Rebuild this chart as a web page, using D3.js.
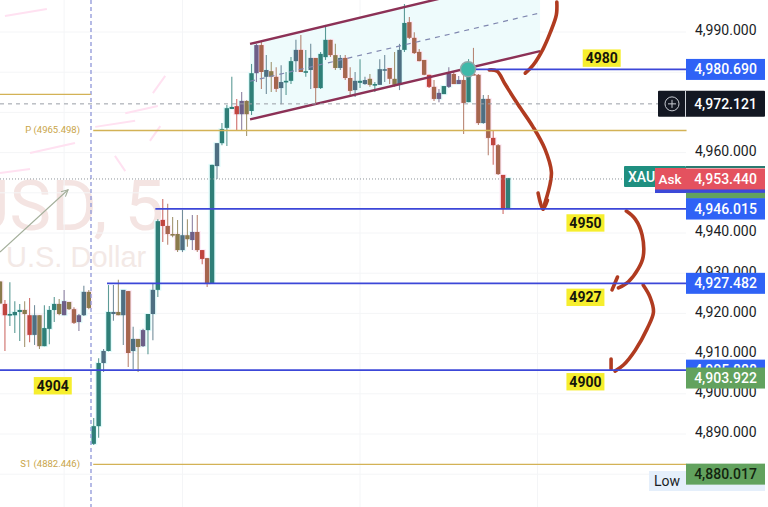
<!DOCTYPE html>
<html><head><meta charset="utf-8">
<style>html,body{margin:0;padding:0;background:#fff;overflow:hidden}svg{display:block}text{font-family:Roboto,sans-serif}</style>
<script src="https://cdn.jsdelivr.net/npm/d3@7/dist/d3.min.js"></script>
</head><body><svg id="c" width="768" height="507"></svg>
<script>
const opens=[4928.2,4922.6,4920.1,4919.8,4920.6,4921.1,4919.8,4914.9,4919.8,4912.1,4916.4,4921.1,4922.6,4919.8,4923.1,4921.3,4918.1,4919.8,4925.6,
4887.8,4892.2,4907.9,4910.9,4920.1,4920.6,4919.8,4925.8,4910.9,4913.9,4912.1,4916.1,4920.1,4926.1,
4943.5,4942,4940,4940,4936,4939.7,4938.5,4940.5,4936,4934,4927.8,4956.9,4962.6,4966.4,4971.1,4971.8,4969.8,4973.1,4970.6,4980,
4987,4979.1,4980.5,4979.1,4976.3,4977.8,4978.1,4983,4985.8,4980.3,4980.8,4983.8,4976.3,4984,4988.3,4984.5,4981.3,4983.8,4978.8,4975.8,4977.6,4977.3,4978.6,4977.1,4977.1,4980.8,4981.3,4978.6,4977.1,
4985.8,4992.7,4988.8,4985.3,4983.3,4979.6,4976.6,4973.6,4974.8,4976.6,4979.8,4977.3,4978.3,4972.8,4979.8,4979.6,4967.6,4973.6,4963.9,4962.1,4954.7,4946.2];
const closes=[4922.7,4919.8,4919.8,4920.6,4921.1,4920.1,4914.9,4919.8,4912.1,4916.6,4921.1,4922.6,4920.1,4923.3,4921.3,4917.9,4919.8,4925.6,4921.6,
4892.2,4907.9,4910.9,4920.6,4920.6,4919.8,4926.1,4910.4,4913.9,4911.9,4916.1,4920.1,4926.1,4943.2,
4942,4940,4939.7,4936,4939.7,4938.7,4940.5,4936,4933.8,4927.6,4957.2,4962.6,4966.1,4971.3,4971.6,4969.8,4973.1,4969.8,4980,4987,
4980.3,4980.8,4979.1,4976.1,4977.8,4978.1,4983,4985.8,4980.3,4980.5,4983.8,4976.3,4984.8,4988.3,4984.5,4981.3,4983.8,4978.8,4975.6,4978.1,4978.1,4978.3,4977.1,4977.3,4981,4981,4978.6,4977.1,4985.8,
4992.5,4988.8,4985,4983,4979.6,4976.6,4973.6,4975.1,4976.8,4980,4977.3,4978.3,4972.6,4980.3,4979.6,4967.6,4973.6,4963.9,4962.1,4954.9,4946.2,4953.9];
const highs=[4928.2,4923.6,4928,4923.3,4922.6,4923.3,4924.1,4922.3,4919.8,4922.3,4922.1,4924.3,4923.8,4926.1,4923.1,4921.8,4920.1,4927.1,4926.1,
4894.2,4909.1,4911.4,4927.3,4927.3,4928.6,4926.1,4925.8,4916.9,4913.9,4916.4,4920.1,4927.8,4943.7,
4948.7,4947.5,4944.2,4943.5,4946,4943.7,4944.7,4944.7,4936,4934,4957.2,4962.6,4967.6,4972.1,4979.1,4973.6,4975.3,4973.3,4982.3,4987.3,
4988,4984.5,4982.8,4981.5,4982,4980.3,4984,4988.3,4989.5,4985.8,4987.3,4983.8,4985.3,4992,4988.3,4987.3,4984.5,4984.5,4981.5,4980.3,4983.5,4979.1,4979.8,4977.8,4983.5,4984.5,4981.3,4985.3,4987.3,
4997.2,4994,4990.2,4986,4983.3,4979.6,4978.3,4976.1,4976.8,4981.5,4980.3,4979.3,4979.6,4983.5,4986.3,4979.8,4974.6,4974.6,4965.9,4962.4,4954.7,4953.9];
const lows=[4922.7,4910.9,4917.1,4915.4,4913.4,4911.9,4913.1,4912.4,4911.4,4912.1,4912.6,4918.1,4919.8,4919.8,4921.1,4917.6,4915.9,4919.6,4921.3,
4887.5,4889.3,4905.7,4910.8,4918.4,4919.8,4912.4,4906.9,4906.4,4905.7,4911.9,4910.1,4913.6,4924.3,
4938,4937.3,4939.2,4935.5,4935.5,4936.8,4936,4935.5,4932.5,4926.8,4927.8,4953.7,4962.1,4961.9,4971.1,4965.9,4965.6,4964.4,4969.6,4977.8,
4976.1,4974.8,4975.3,4975.3,4972.3,4974.6,4977.3,4980.3,4980.3,4979.1,4976.1,4972.3,4976.1,4983.3,4984,4980.8,4980.8,4978.3,4974.6,4974.1,4976.3,4977.1,4976.6,4975.3,4977.1,4977.8,4977.3,4976.6,4975.8,
4985.3,4988.5,4984.8,4983,4979.5,4976.3,4973.1,4972.8,4974.8,4976.3,4977.3,4977.3,4964.9,4972.8,4979.6,4967.1,4967.4,4959.6,4957.2,4954.7,4945,4946.2];
const tones=("O R T T T O R B O T T T O P O D P B O "+
"T T B T B O B D B O P T B T "+
"R D O O B O P D R D T B T T T R P O T P "+
"D B O D B T T B D T B D T T D O B D D B T B O T B B D O B "+
"T D D D D R D P T P D P D T D D B D R D R T").split(" ");
const axisTicks=[4990,4960,4940,4930,4920,4910,4900,4890];
const gridPrices=[4990,4980,4970,4960,4950,4940,4930,4920,4910,4900,4890,4880];
const timeGrid=[13,37,73,109];
const sessionBreak=[18.45];
const blueLevels=[[96.5,4980.69],[31.5,4946.015],[21.7,4927.482],[0,4905.888]];
const goldLevels=[[0,18.4,4974.5],[18.9,139.2,4965.498],[18.9,139.2,4882.446]];
const goldLabels=[["P (4965.498)",4965.498],["S1 (4882.446)",4882.446]];
const lastPrice=[4953.44], crossPrice=[4972.121];
const channelTop=[[50.7,4987.3],[109.5,5004.5]];
const channelBottom=[[50.7,4968.5],[109.5,4985.5]];
const channelMid=[[50.7,4978],[109.5,4995]];
const handStrokes=[
 [[112.9,4997.7],[112.8,4994.5],[111.6,4990.2],[110.1,4986],[108.1,4982],[106.5,4980]],
 [[99.2,4980.8],[100.8,4980.5],[102.4,4977.3],[105.1,4972.1],[108.1,4966.6],[110.5,4961.1],[111.8,4955.4],[111.4,4951.7],[110.1,4946.2]],
 [[109.1,4950.2],[110.1,4946.2],[111,4948.4]],
 [[127,4945.7],[128.8,4943.7],[130.2,4939.7],[130.4,4934.3],[129.4,4931.3],[127.4,4928.1],[125.4,4926.6]],
 [[125.2,4929.3],[124.1,4926.1]],
 [[130.4,4927.3],[131.8,4924.3],[132.5,4920.6],[131.2,4916.4],[128.8,4911.1],[126.4,4907.4],[124.7,4905.9]],
 [[123.9,4908.9],[123.9,4906.4]]];
const ghostStrokes=[[[1,4994],[9.5,4995.7]],[[19.3,4966.4],[27.4,4967.9]],[[25.4,4969.8],[32,4971.6]],[[6.1,4959.9],[15.2,4962.4]],[[0,4954.9],[6.1,4955.9]],[[31,4974.8],[33.5,4979.1]],[[30.4,4962.9],[32.5,4966.6]],[[23.3,4959.2],[25.4,4955.4]],[[73,4992],[77.7,4993.5]],[[67.5,4988.5],[73,4989.8]],[[52.7,4979],[61.5,4984.5]]];
const trendArrow=[[0,4935.5],[13.8,4951]];
const touchPoint=[[94.9,4981]];
const yellowNotes=[["4980",122,4983.5],["4950",118.7,4942.5],["4927",118.7,4924],["4900",118.7,4903],["4904",10.7,4902]];
const bandTags=["4,980.690","4,946.015","4,927.482","4,905.888"];
const bandTagPrices=[4980.69,4946.015,4927.482,4905.888];

const svg=d3.select("#c");
const x=d3.scaleLinear().domain([0,103]).range([0,508]);
const y=d3.scaleLinear().domain([4880,4990]).range([474.2,32]);
const W=686,H=507;
const line=d3.line().x(d=>x(d[0])).y(d=>y(d[1]));
const curve=d3.line().x(d=>x(d[0])).y(d=>y(d[1])).curve(d3.curveCatmullRom.alpha(.5));

// watermark
svg.append("text").attr("x",-36).attr("y",230).attr("font-size",70).style("font-family","Roboto").attr("fill","#f4e4e2").text("USD, 5");
svg.append("text").attr("x",6).attr("y",267).attr("font-size",29).style("font-family","'Liberation Sans'").attr("fill","#f3e9e6").text("U.S. Dollar");
// grid
svg.append("g").selectAll("line").data(gridPrices).join("line").attr("x1",0).attr("x2",W).attr("y1",d=>y(d)).attr("y2",d=>y(d)).attr("stroke","#f4f5f7");
svg.append("g").selectAll("line").data(timeGrid).join("line").attr("x1",d=>x(d)).attr("x2",d=>x(d)).attr("y1",0).attr("y2",H).attr("stroke","#f4f5f7");
// artefact streaks
svg.append("g").selectAll("path").data(ghostStrokes).join("path").attr("d",line).attr("fill","none").attr("stroke","#ffe1f1").attr("stroke-width",2);

const marks=svg.append("g").attr("transform","translate(0,1)");
// channel
marks.append("path").attr("d",line([...channelTop,...channelBottom.slice().reverse()])+"Z").attr("fill","#eefbfc");
// halo + candles
const idx=d3.range(opens.length);
const upTone=new Set(["T","B","P"]);
const toneColor=d3.scaleOrdinal().domain(["T","B","P","O","D","R"]).range(["#2f7f78","#4e6f82","#6d5f88","#8b7a4c","#a6654e","#c0453f"]);
const bodyTop=i=>Math.max(opens[i],closes[i]),bodyBot=i=>Math.min(opens[i],closes[i]);
marks.append("g").selectAll("rect").data(idx).join("rect").attr("x",i=>x(i)-3.6).attr("width",7.2)
 .attr("y",i=>y(bodyTop(i))-1).attr("height",i=>Math.max(2,y(bodyBot(i))-y(bodyTop(i))+2))
 .attr("fill",i=>upTone.has(tones[i])?"#e2fcfc":"#feecf7");
marks.append("g").selectAll("line").data(idx).join("line").attr("x1",i=>x(i)).attr("x2",i=>x(i)).attr("y1",i=>y(highs[i])).attr("y2",i=>y(lows[i]))
 .attr("stroke",i=>toneColor(tones[i])).attr("stroke-opacity",.78).attr("stroke-width",1.1);
marks.append("g").selectAll("rect").data(idx).join("rect").attr("x",i=>x(i)-2.2).attr("width",4.4)
 .attr("y",i=>y(bodyTop(i))).attr("height",i=>Math.max(1.6,y(bodyBot(i))-y(bodyTop(i))))
 .attr("fill",i=>toneColor(tones[i]));

// channel lines
marks.append("path").attr("d",line(channelMid)).attr("stroke","#8088b0").attr("stroke-width",1.2).attr("stroke-dasharray","5 5").attr("fill","none");
[channelTop,channelBottom].forEach(c=>marks.append("path").attr("d",line(c)).attr("stroke","#8c3156").attr("stroke-width",2.4).attr("fill","none"));
// levels
svg.append("g").selectAll("line").data(sessionBreak).join("line").attr("x1",d=>x(d)).attr("x2",d=>x(d)).attr("y1",0).attr("y2",H).attr("stroke","#8f97d8").attr("stroke-width",1.3).attr("stroke-dasharray","4 3");
svg.append("g").selectAll("line").data(goldLevels).join("line").attr("x1",d=>x(d[0])).attr("x2",d=>x(d[1])).attr("y1",d=>y(d[2])).attr("y2",d=>y(d[2])).attr("stroke","#d3b256").attr("stroke-width",1.3);
svg.append("g").selectAll("line").data(blueLevels).join("line").attr("x1",d=>x(d[0])).attr("x2",W).attr("y1",d=>y(d[1])).attr("y2",d=>y(d[1])).attr("stroke","#3c47d8").attr("stroke-width",1.8);
svg.append("g").selectAll("line").data(crossPrice).join("line").attr("x1",0).attr("x2",658).attr("y1",d=>y(d)).attr("y2",d=>y(d)).attr("stroke","#9a9ea6").attr("stroke-dasharray","4 4");
svg.append("g").selectAll("line").data(lastPrice).join("line").attr("x1",0).attr("x2",624).attr("y1",d=>y(d)).attr("y2",d=>y(d)).attr("stroke","#8d9499").attr("stroke-dasharray","1 2");
svg.append("g").selectAll("text").data(goldLabels).join("text").attr("x",80).attr("y",d=>y(d[1])-.5).attr("dy",".35em").attr("text-anchor","end").attr("font-size",9.5).attr("fill","#c9a549").text(d=>d[0]);
// trend arrow
svg.append("defs").append("marker").attr("id","ah").attr("markerWidth",8).attr("markerHeight",8).attr("refX",7).attr("refY",4).attr("orient","auto")
 .append("path").attr("d","M1,1L7,4L1,7").attr("fill","none").attr("stroke","#a3ae9a");
marks.append("path").attr("d",line(trendArrow)).attr("stroke","#a3ae9a").attr("stroke-width",1.1).attr("fill","none").attr("marker-end","url(#ah)");
// touch marker
marks.selectAll("circle.t").data(touchPoint).join("circle").attr("class","t").attr("cx",d=>x(d[0])).attr("cy",d=>y(d[1])).attr("r",7.5).attr("fill","#3fb9a9").attr("stroke","#8fa8a8").attr("stroke-width",1.5);
// hand strokes
marks.append("g").selectAll("path").data(handStrokes).join("path").attr("d",curve).attr("fill","none").attr("stroke","#b03b20").attr("stroke-width",3.6).attr("stroke-linecap","round").attr("stroke-linejoin","round");
// yellow notes
const notes=svg.append("g").selectAll("g").data(yellowNotes).join("g").attr("transform",d=>`translate(${x(d[1])},${y(d[2])})`);
notes.append("rect").attr("x",-19).attr("y",-8.7).attr("width",38).attr("height",17.4).attr("fill","#f6ee2e");
notes.append("text").attr("text-anchor","middle").attr("dy",".36em").attr("font-size",14).attr("font-weight",700).attr("fill","#16160c").text(d=>d[0]);

// price axis
const axis=svg.append("g").attr("transform","translate(695,-1.5)").call(d3.axisRight(y).tickValues(axisTicks).tickSize(0).tickPadding(0).tickFormat(d3.format(",.3f")));
axis.select(".domain").remove();
axis.selectAll("text").attr("font-size",14).attr("fill","#1a1d26").style("font-family","Roboto,sans-serif");

// tags
const tagX=686,tagW=79;
const tag=(p,fill,txt,fg)=>{const yy=y(p);svg.append("rect").attr("x",tagX).attr("y",yy-10.5).attr("width",tagW).attr("height",21).attr("fill",fill);
 if(txt)svg.append("text").attr("x",tagX+tagW/2).attr("y",yy).attr("dy",".36em").attr("text-anchor","middle").attr("font-size",14).attr("font-weight",500).attr("fill",fg).text(txt);};
bandTags.forEach((t,i)=>tag(bandTagPrices[i],"#2f62f6",t,"#fff"));
tag(4903.922,"#62a25e","4,903.922","#fff");
// crosshair tag
const cy=y(crossPrice[0]);
svg.append("rect").attr("x",658).attr("y",cy-13).attr("width",107).attr("height",26).attr("fill","#131722").attr("rx",1);
svg.append("line").attr("x1",685.5).attr("x2",685.5).attr("y1",cy-13).attr("y2",cy+13).attr("stroke","#d0d3da");
svg.append("circle").attr("cx",672).attr("cy",cy).attr("r",7).attr("fill","none").attr("stroke","#c8cbd2");
svg.append("path").attr("d",`M668,${cy}h8M672,${cy-4}v8`).attr("stroke","#c8cbd2");
svg.append("text").attr("x",725.5).attr("y",cy).attr("dy",".36em").attr("text-anchor","middle").attr("font-size",14).attr("font-weight",500).attr("fill","#fff").text("4,972.121");
// last price stack
tag(4951.2,"#62a25e");
tag(4952.6,"#3c49d8");
svg.append("rect").attr("x",655).attr("y",172).attr("width",31).attr("height",21).attr("fill","#3c49d8");
svg.append("rect").attr("x",624).attr("y",166).attr("width",62).attr("height",21).attr("fill","#1f8f80").attr("rx",1);
svg.append("text").attr("x",628).attr("y",176.5).attr("dy",".36em").attr("font-size",14).attr("font-weight",500).attr("fill","#fff").text("XAU");
svg.append("rect").attr("x",655).attr("y",168).attr("width",31).attr("height",21.5).attr("fill","#e4525f");
svg.append("text").attr("x",670).attr("y",179).attr("dy",".36em").attr("text-anchor","middle").attr("font-size",13.5).attr("font-weight",500).attr("fill","#fff").text("Ask");
tag(lastPrice[0],"#e4525f","4,953.440","#fff");
svg.append("rect").attr("x",686).attr("y",166).attr("width",79).attr("height",2).attr("fill","#2a7a70");
// 4946 tag repainted on top of the strips
tag(4946.015,"#2f62f6","4,946.015","#fff");
// low tag
svg.append("rect").attr("x",649).attr("y",471).attr("width",116).attr("height",20).attr("fill","#e5effb");
svg.append("text").attr("x",667).attr("y",481).attr("dy",".36em").attr("text-anchor","middle").attr("font-size",14).attr("fill","#1a1d26").text("Low");
tag(4880.017,"#62a25e","4,880.017","#12240f");
</script></body></html>
